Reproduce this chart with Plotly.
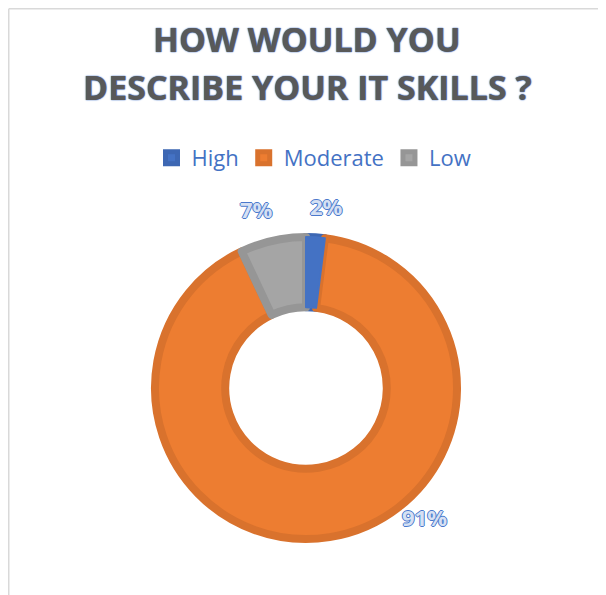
import plotly.graph_objects as go

categories = ["High", "Moderate", "Low"]
values = [2, 91, 7]
colors = ["#4472C4", "#ED7D31", "#A5A5A5"]
border_colors = ["#3D67B3", "#D9722D", "#969696"]
title_lines = ["HOW WOULD YOU", "DESCRIBE YOUR IT SKILLS ?"]

# page body adds an 8px offset; figure sized to fit the window
OFF = 8
W, H = 606 - OFF, 595 - OFF


def px(x):
    return (x - OFF) / W


def py(y):
    return 1 - (y - OFF) / H


# label anchor points (reference pixel coords) for each slice's data label
label_px = [(326, 207), (424, 518), (256, 210)]

cx, cy, R = 306, 388, 151
domain = dict(x=[px(cx - R), px(cx + R)], y=[py(cy + R), py(cy - R)])

fig = go.Figure()
fig.add_trace(go.Pie(
    labels=categories,
    values=values,
    sort=False,
    direction="clockwise",
    rotation=0,
    hole=0.535,
    marker=dict(colors=colors, line=dict(color=border_colors, width=8)),
    textinfo="none",
    hoverinfo="label+percent",
    domain=domain,
))
# redraw the small first slice on top so neighbouring borders don't cover it
total = sum(values)
fig.add_trace(go.Pie(
    labels=[categories[0], "rest"],
    values=[values[0], total - values[0]],
    sort=False,
    direction="clockwise",
    rotation=0,
    hole=0.535,
    marker=dict(colors=[colors[0], "rgba(0,0,0,0)"], line=dict(color=[colors[0], "rgba(0,0,0,0)"], width=2)),
    textinfo="none",
    hoverinfo="skip",
    showlegend=False,
    domain=domain,
))

annotations = []
title_y = [39.5, 86.5]
for line, y in zip(title_lines, title_y):
    annotations.append(dict(
        text=f"<b>{line}</b>", x=px(307), y=py(y), xref="paper", yref="paper",
        xanchor="center", yanchor="middle", showarrow=False,
        font=dict(family="Open Sans", size=34, color="#595959",
                  shadow="0px 0px 1.5px #4472C4, 0px 0px 1px #4472C4"),
    ))
for v, (x, y) in zip(values, label_px):
    annotations.append(dict(
        text=f"<b>{round(100 * v / total)}%</b>", x=px(x), y=py(y - 1), xref="paper", yref="paper",
        xanchor="center", yanchor="middle", showarrow=False,
        font=dict(family="Open Sans", size=22, color="#D6E0F3",
                  shadow="1px 0px 0px #4A78CC, -1px 0px 0px #4A78CC, 0px 1px 0px #4A78CC, 0px -1px 0px #4A78CC"),
    ))

fig.update_layout(
    width=W, height=H,
    margin=dict(l=0, r=0, t=0, b=0),
    paper_bgcolor="white",
    plot_bgcolor="white",
    showlegend=True,
    legend=dict(
        orientation="h", x=px(314), xanchor="center", y=py(158), yanchor="middle",
        font=dict(family="Open Sans", size=22, color="#4472C4"),
        itemclick=False, itemdoubleclick=False,
    ),
    annotations=annotations,
    shapes=[
        dict(type="line", xref="paper", yref="paper", x0=0.75 / W, x1=1, y0=1 - 0.75 / H, y1=1 - 0.75 / H,
             line=dict(color="#D9D9D9", width=1.5)),
        dict(type="line", xref="paper", yref="paper", x0=0.75 / W, x1=0.75 / W, y0=0, y1=1 - 0.75 / H,
             line=dict(color="#D9D9D9", width=1.5)),
    ],
)

fig.write_html("out.html")
